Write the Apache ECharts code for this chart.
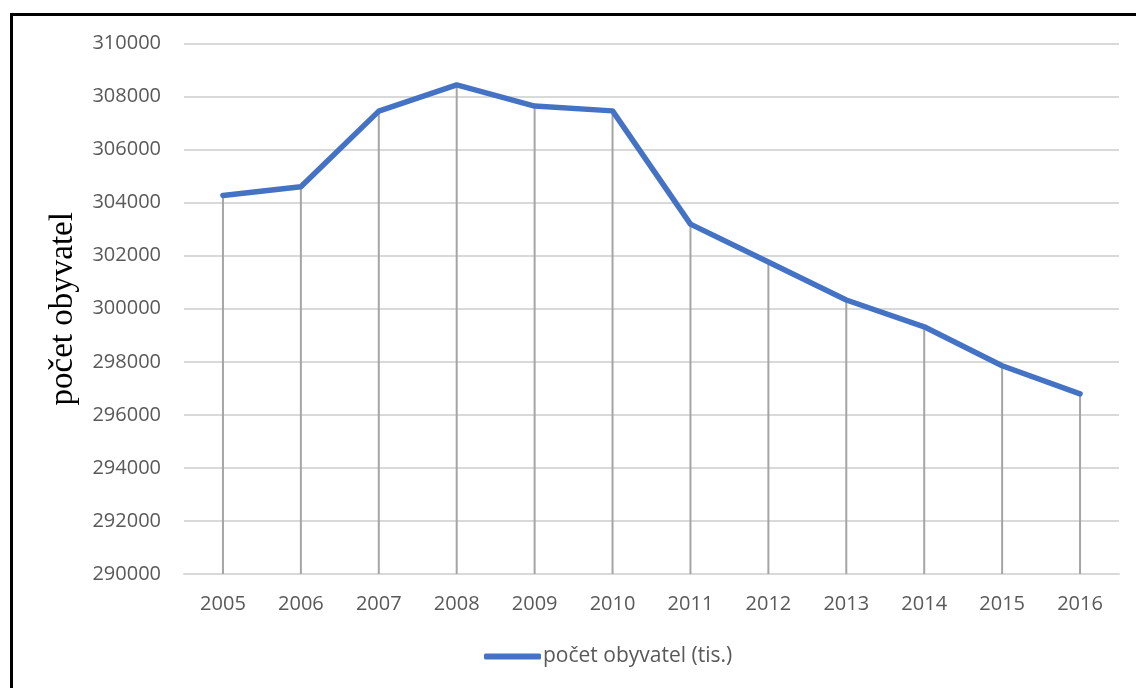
<!DOCTYPE html>
<html>
<head>
<meta charset="utf-8">
<script src="https://cdn.jsdelivr.net/npm/echarts@6/dist/echarts.min.js"></script>
<style>
  html, body { margin: 0; padding: 0; background: #ffffff; }
  #chart { width: 1136px; height: 688px; position: relative; }
  #frame {
    position: absolute; left: 10px; top: 13px; width: 1200px; height: 800px;
    border-left: 3px solid #000; border-top: 3px solid #000; pointer-events: none;
  }
</style>
</head>
<body>
<div style="position:relative;width:1136px;height:688px;overflow:hidden;">
  <div id="chart"></div>
  <div id="frame"></div>
</div>
<script>
// Population by year
const years = ['2005', '2006', '2007', '2008', '2009', '2010', '2011', '2012', '2013', '2014', '2015', '2016'];
const population = [304270, 304600, 307450, 308440, 307640, 307460, 303190, 301760, 300330, 299320, 297850, 296790];
const seriesName = 'počet obyvatel (tis.)';
const axisTitle = 'počet obyvatel';

const labelFont = 'Open Sans';
const chart = echarts.init(document.getElementById('chart'), null, { renderer: 'canvas' });

chart.setOption({
  animation: false,
  backgroundColor: '#ffffff',
  grid: { left: 184, right: 17, top: 43.5, bottom: 114, containLabel: false },
  legend: {
    data: [seriesName],
    left: 484,
    top: 646,
    padding: 0,
    itemWidth: 57,
    itemHeight: 6,
    itemGap: 10,
    icon: 'roundRect',
    textStyle: { color: '#595959', fontSize: 21, fontFamily: labelFont, padding: [0, 0, 0, -3] }
  },
  xAxis: {
    type: 'category',
    data: years,
    boundaryGap: true,
    axisLine: { show: true, lineStyle: { color: '#d9d9d9', width: 2 } },
    axisTick: { show: false },
    axisLabel: { color: '#595959', fontSize: 20, fontFamily: labelFont, margin: 20 }
  },
  yAxis: {
    type: 'value',
    min: 290000,
    max: 310000,
    interval: 2000,
    name: axisTitle,
    nameLocation: 'middle',
    nameRotate: 90,
    nameGap: 104,
    nameTextStyle: { color: '#000000', fontSize: 33, fontFamily: 'Liberation Serif' },
    axisLine: { show: false },
    axisTick: { show: false },
    axisLabel: {
      color: '#595959', fontSize: 20, fontFamily: labelFont, margin: 23,
      formatter: function (v) { return String(v); }
    },
    splitLine: { lineStyle: { color: '#d9d9d9', width: 2 } }
  },
  series: [
    {
      // drop lines from each point down to the category axis
      name: 'drop',
      type: 'bar',
      data: population,
      barWidth: 2,
      silent: true,
      itemStyle: { color: '#a5a5a5' },
      z: 1
    },
    {
      name: seriesName,
      type: 'line',
      data: population,
      showSymbol: false,
      symbol: 'none',
      lineStyle: { color: '#4472c4', width: 5.5, join: 'round', cap: 'round' },
      itemStyle: { color: '#4472c4' },
      z: 3
    }
  ]
});
</script>
</body>
</html>
